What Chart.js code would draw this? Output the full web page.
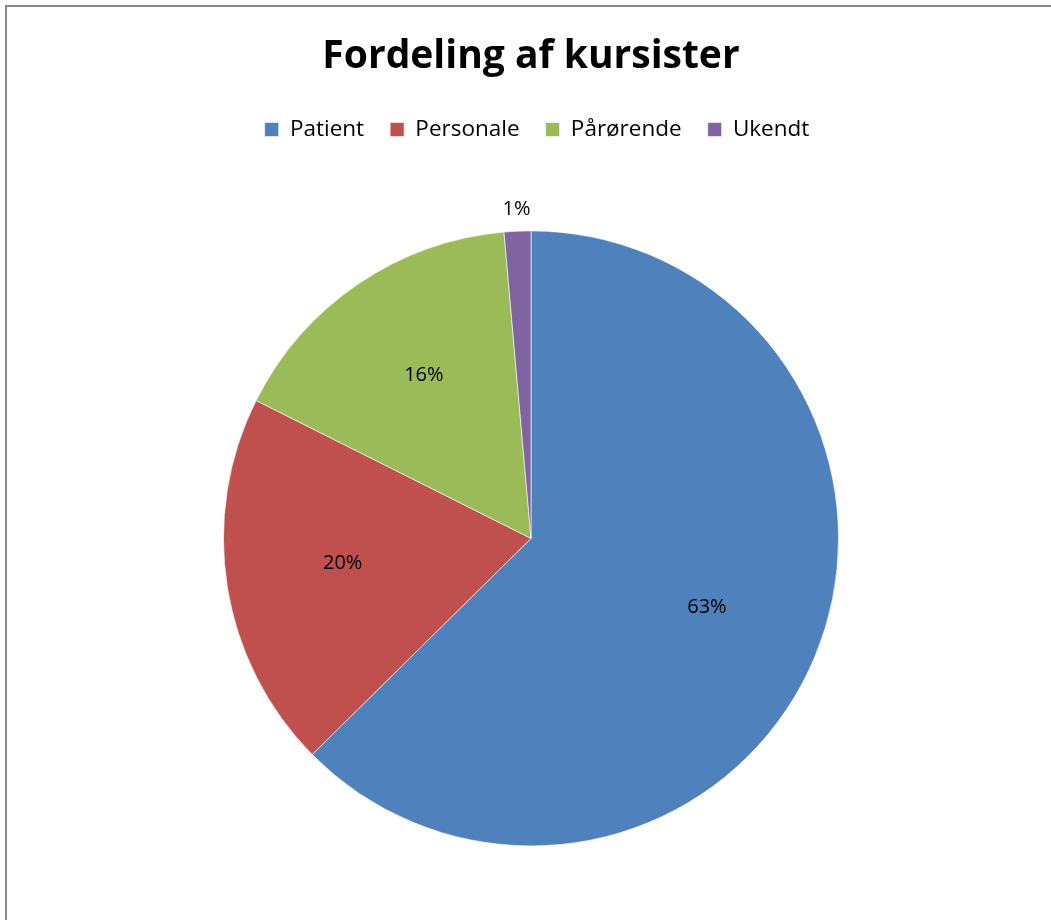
<!DOCTYPE html>
<html><head><meta charset="utf-8">
<script src="https://cdn.jsdelivr.net/npm/chart.js@4/dist/chart.umd.min.js"></script>
<style>
html,body{margin:0;padding:0;overflow:hidden;background:#fff;width:1051px;height:920px}
#frame{position:absolute;left:5px;top:5px;width:1300px;height:1300px;border:2px solid #878787;box-sizing:border-box}
#wrap{position:absolute;left:0;top:0;width:1051px;height:1100px}
</style></head><body>
<div id="frame"></div>
<div id="wrap"><canvas id="c" width="1051" height="1100"></canvas></div>
<script>
const chartTitle = 'Fordeling af kursister';
const categories = ['Patient', 'Personale', 'Pårørende', 'Ukendt'];
const values = [62.6, 19.8, 16.2, 1.4];
const colors = ['#4F81BD', '#C0504D', '#9BBB59', '#8064A2'];

const pctLabels = {
  id: 'pctLabels',
  afterDatasetsDraw(chart) {
    const ctx = chart.ctx;
    const meta = chart.getDatasetMeta(0);
    const data = chart.data.datasets[0].data;
    const total = data.reduce((a, b) => a + b, 0);
    ctx.save();
    ctx.font = '20px "Open Sans", sans-serif';
    ctx.fillStyle = '#000';
    ctx.textAlign = 'center';
    ctx.textBaseline = 'middle';
    meta.data.forEach((arc, i) => {
      const p = arc.getProps(['x', 'y', 'startAngle', 'endAngle', 'outerRadius'], true);
      const mid = (p.startAngle + p.endAngle) / 2;
      const pct = Math.round(data[i] / total * 100);
      const r = pct < 3 ? p.outerRadius + 22 : p.outerRadius * 0.62;
      const dy = pct < 3 ? 0 : -5;
      ctx.fillText(pct + '%', p.x + Math.cos(mid) * r, p.y + Math.sin(mid) * r + dy);
    });
    ctx.restore();
  }
};

const legendShift = {
  id: 'legendShift',
  afterLayout(chart) {
    if (chart.legend) {
      chart.legend.left += 6;
      chart.legend.right += 6;
    }
  }
};

new Chart(document.getElementById('c'), {
  type: 'pie',
  data: {
    labels: categories,
    datasets: [{
      data: values,
      backgroundColor: colors,
      borderColor: 'rgba(255,255,255,0.6)',
      borderWidth: 1
    }]
  },
  options: {
    responsive: false,
    animation: false,
    layout: { padding: { left: 223, right: 212, top: 0, bottom: 174 } },
    plugins: {
      title: {
        display: true,
        text: chartTitle,
        color: '#000',
        font: { family: '"Open Sans", sans-serif', size: 39, weight: 'bold' },
        padding: { top: 33, bottom: 12.5 }
      },
      legend: {
        display: true,
        position: 'top',
        labels: {
          color: '#000',
          font: { family: '"Open Sans", sans-serif', size: 22.5 },
          boxWidth: 14,
          boxHeight: 14,
          padding: 26
        }
      },
      tooltip: { enabled: false }
    }
  },
  plugins: [pctLabels, legendShift]
});
</script>
</body></html>
